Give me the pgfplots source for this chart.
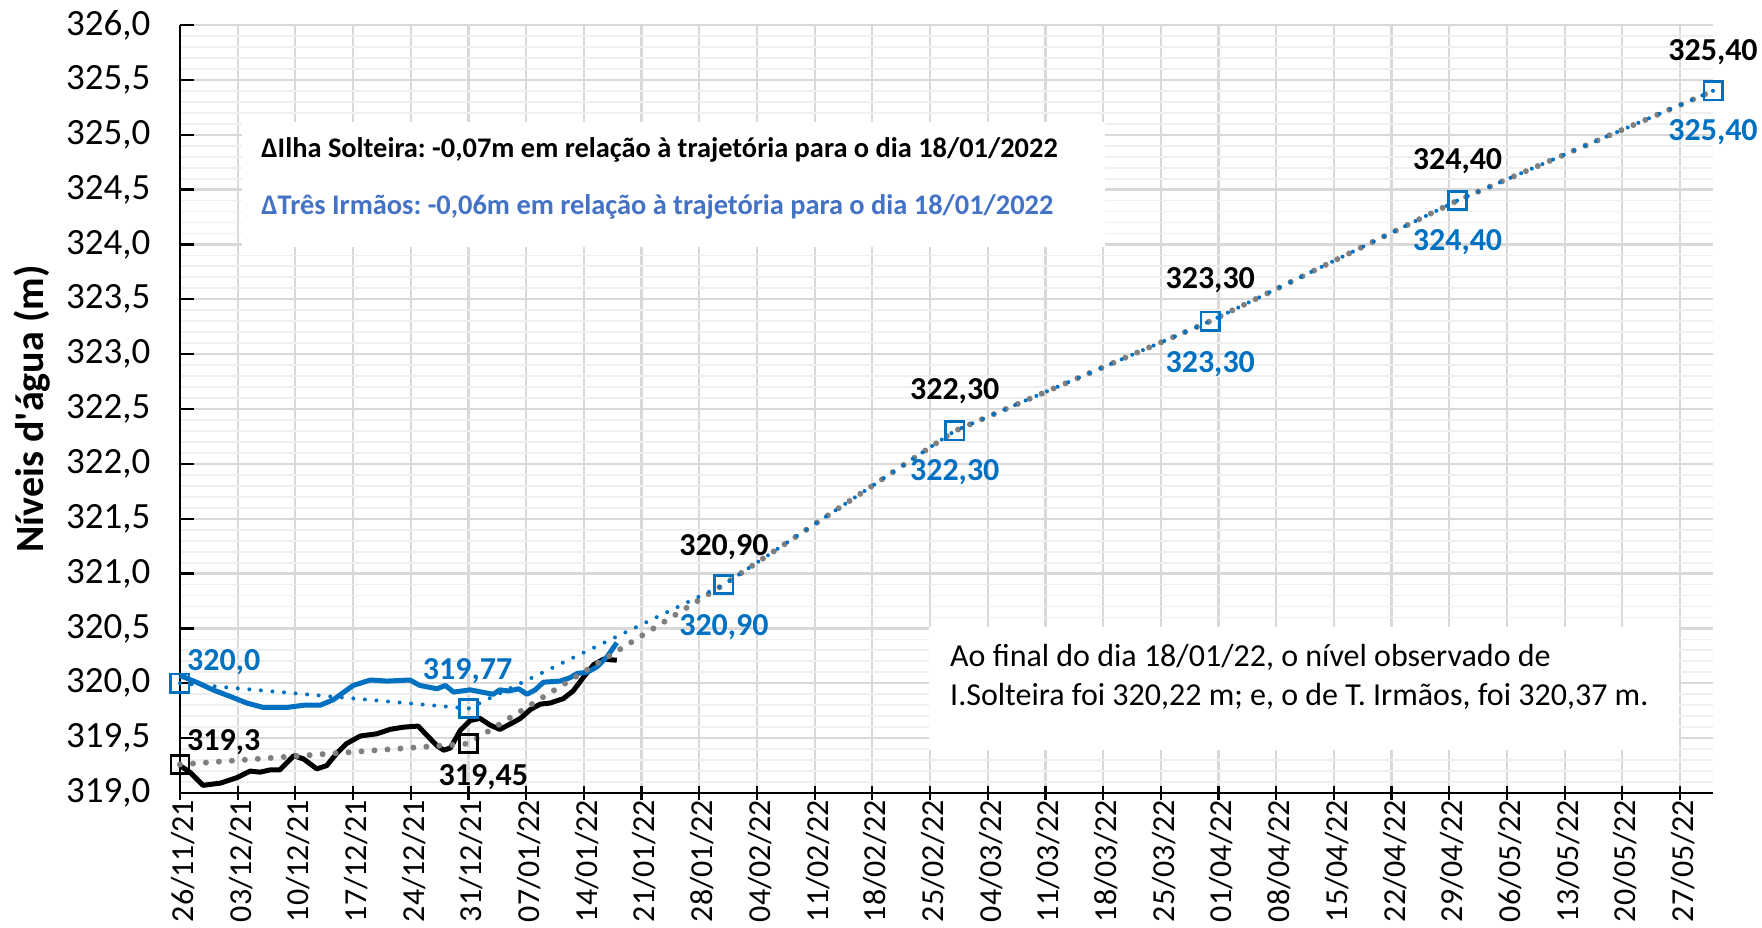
\documentclass[border=0pt]{standalone}
\usepackage{fontspec}
\setmainfont{Carlito}[Ligatures=TeXOff]
\usepackage{pgfplots}
\pgfplotsset{compat=1.18}

\definecolor{tiblue}{HTML}{0070C0}
\definecolor{txtblue}{HTML}{4472C4}
\definecolor{trajgray}{HTML}{808080}
\definecolor{gridmaj}{HTML}{D9D9D9}
\definecolor{gridmin}{HTML}{EFEFEF}

\begin{document}
\frenchspacing
\begin{tikzpicture}
\begin{axis}[
    at={(0,0)}, anchor=south west,
    scale only axis,
    width=766.5pt, height=384pt,
    xmin=0, xmax=186,
    ymin=319, ymax=326,
    axis x line*=bottom, axis y line*=left,
    axis line style={-, black, line width=1.1pt},
    xtick={0,7,...,182},
    xticklabels={26/11/21,03/12/21,10/12/21,17/12/21,24/12/21,31/12/21,07/01/22,14/01/22,21/01/22,28/01/22,04/02/22,11/02/22,18/02/22,25/02/22,04/03/22,11/03/22,18/03/22,25/03/22,01/04/22,08/04/22,15/04/22,22/04/22,29/04/22,06/05/22,13/05/22,20/05/22,27/05/22},
    ytick distance=0.5,
    minor y tick num=4,
    tick align=inside,
    major tick length=7pt,
    minor tick length=0pt,
    xtick style={black, line width=1.1pt, yshift=-3.5pt},
    ytick style={black, line width=1.1pt},
    xmajorgrids, ymajorgrids, yminorgrids,
    major grid style={gridmaj, line width=1.1pt},
    minor grid style={gridmin, line width=0.9pt},
    x tick label style={rotate=90, anchor=east, yshift=-1.5pt, font=\fontsize{16pt}{16pt}\selectfont},
    y tick label style={xshift=-11.3pt, font=\fontsize{18.5pt}{18.5pt}\selectfont},
    yticklabel style={/pgf/number format/.cd, fixed, fixed zerofill, precision=1, use comma, assume math mode=true},
    ylabel={Níveis d'água (m)},
    every axis y label/.style={at={(axis description cs:-0.0966,0.5)}, rotate=90, anchor=center, font=\bfseries\fontsize{20pt}{20pt}\selectfont},
    clip=false,
]

% caixas de texto
\fill[white] (axis cs:7.5,323.98) rectangle (axis cs:112.2,325.12);
\fill[white] (axis cs:90.9,319.39) rectangle (axis cs:181.9,320.51);

% Ilha Solteira observado
\addplot[black, line width=2.5pt, line join=round] coordinates {
(0,319.25)(1.2,319.19)(2.8,319.07)(4.9,319.09)(6.9,319.14)(8.5,319.20)(9.7,319.19)
(10.9,319.21)(12.1,319.21)(13.8,319.34)(15,319.31)(16.6,319.22)(17.8,319.25)
(19,319.36)(20.2,319.45)(21.9,319.52)(23.9,319.54)(25.5,319.58)(27.1,319.60)
(28.9,319.61)(29.9,319.53)(31.2,319.43)(32,319.39)(32.8,319.41)(34,319.57)
(35.2,319.66)(36.4,319.68)(37.6,319.62)(38.8,319.58)(40.1,319.63)(41.3,319.68)
(42.5,319.76)(43.7,319.81)(44.9,319.82)(46.5,319.86)(47.7,319.93)(49,320.06)
(50.2,320.17)(51.4,320.22)(53,320.21)
};

% Tres Irmaos observado
\addplot[tiblue, line width=2.5pt, line join=round] coordinates {
(0,320.07)(2,320.01)(4,319.94)(6.1,319.88)(8.1,319.82)(10.1,319.78)(13,319.78)
(15,319.80)(17,319.80)(18.6,319.85)(21,319.98)(23.1,320.03)(25.1,320.02)
(27.9,320.03)(29.1,319.98)(31.2,319.95)(32.2,319.98)(33.2,319.92)(35.2,319.94)
(38,319.90)(38.8,319.94)(39.9,319.93)(41.1,319.95)(42.1,319.90)(43.1,319.94)
(44.1,320.01)(46.1,320.02)(47.3,320.05)(48.2,320.09)(49.4,320.10)(50.6,320.15)
(51.8,320.24)(53,320.37)
};

% trajetoria Ilha Solteira
\addplot[trajgray, line width=3pt, line cap=round, dash pattern=on 0pt off 6.5pt,
    mark=square, mark size=4.5pt, mark indices={1,2},
    mark options={solid, draw=black, line width=1.2pt, fill=none}] coordinates {
(0,319.26)(35,319.45)(66,320.90)(94,322.30)(125,323.30)(155,324.40)(186,325.40)
};

% trajetoria Tres Irmaos
\addplot[tiblue, line width=2pt, line cap=round, dash pattern=on 0pt off 5.8pt,
    mark=square, mark size=4.6pt,
    mark options={solid, line width=1.3pt, fill=none}] coordinates {
(0,320.00)(35,319.77)(66,320.90)(94,322.30)(125,323.30)(155,324.40)(186,325.40)
};

% rotulos
\begin{scope}[every node/.style={font=\bfseries\fontsize{16pt}{16pt}\selectfont, inner sep=0pt}]
\node[text=tiblue] at (axis cs:5.3,320.19) {320,0};
\node[text=black] at (axis cs:5.3,319.46) {319,3};
\node[text=tiblue] at (axis cs:34.9,320.11) {319,77};
\node[text=black] at (axis cs:36.8,319.14) {319,45};
\node[text=black] at (axis cs:66,321.24) {320,90};
\node[text=tiblue] at (axis cs:66,320.51) {320,90};
\node[text=black] at (axis cs:94,322.66) {322,30};
\node[text=tiblue] at (axis cs:94,321.92) {322,30};
\node[text=black] at (axis cs:125,323.67) {323,30};
\node[text=tiblue] at (axis cs:125,322.91) {323,30};
\node[text=black] at (axis cs:155,324.76) {324,40};
\node[text=tiblue] at (axis cs:155,324.02) {324,40};
\node[text=black] at (axis cs:186,325.75) {325,40};
\node[text=tiblue] at (axis cs:186,325.02) {325,40};
\end{scope}

\node[anchor=base west, inner sep=0pt, font=\bfseries\fontsize{14.2pt}{14.2pt}\selectfont]
  at (axis cs:9.82,324.79) {ΔIlha Solteira: -0,07m em relação à trajetória para o dia 18/01/2022};
\node[anchor=base west, inner sep=0pt, text=txtblue, font=\bfseries\fontsize{14.2pt}{14.2pt}\selectfont]
  at (axis cs:9.82,324.27) {ΔTrês Irmãos: -0,06m em relação à trajetória para o dia 18/01/2022};
\node[anchor=base west, inner sep=0pt, font=\fontsize{16pt}{16pt}\selectfont]
  at (axis cs:93.4,320.15) {Ao final do dia 18/01/22, o nível observado de};
\node[anchor=base west, inner sep=0pt, font=\fontsize{16pt}{16pt}\selectfont]
  at (axis cs:93.4,319.80) {I.Solteira foi 320,22 m; e, o de T. Irmãos, foi 320,37 m.};

\end{axis}
\pgfresetboundingbox
\path[use as bounding box] (-90pt,-67pt) rectangle (791pt,396.5pt);
\end{tikzpicture}
\end{document}
